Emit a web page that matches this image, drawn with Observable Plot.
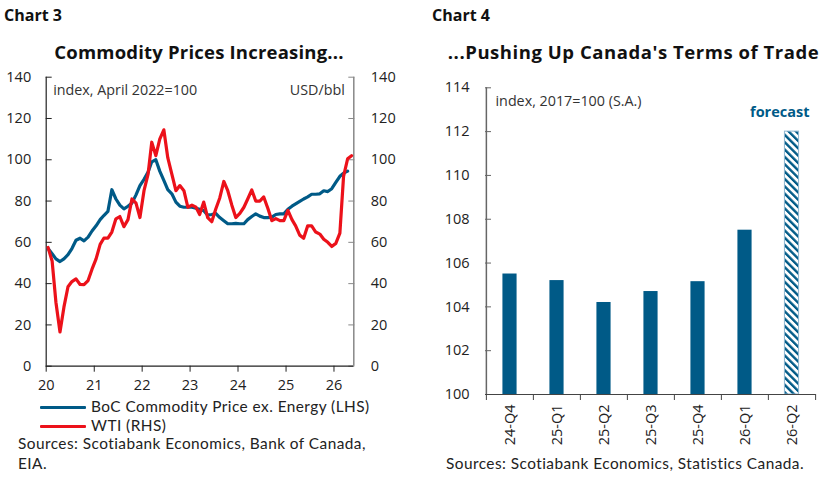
<!DOCTYPE html>
<html><head><meta charset="utf-8">
<script src="https://cdn.jsdelivr.net/npm/d3@7"></script>
<script src="https://cdn.jsdelivr.net/npm/@observablehq/plot@0.6"></script>
<style>
body{margin:0;background:#fff;font-family:"Open Sans",sans-serif;color:#222;}
#page{position:relative;width:828px;height:483px;overflow:hidden;background:#fff;}
.t{position:absolute;white-space:nowrap;line-height:1;}
.chartno{font-weight:700;font-size:16px;color:#111;}
.title{font-weight:700;font-size:18.5px;color:#111;text-align:center;width:420px;}
.body{font-family:Lato,"Open Sans",sans-serif;font-size:15.4px;letter-spacing:0.45px;color:#222;}
.sw{position:absolute;height:3px;border-radius:1px;}
.plot{position:absolute;}
</style></head><body>
<div id="page">
  <div class="t chartno" style="left:4px;top:6.8px;">Chart 3</div>
  <div class="t title" style="left:-11px;top:42.9px;letter-spacing:0.2px;">Commodity Prices Increasing...</div>
  <div class="t chartno" style="left:432px;top:6.8px;">Chart 4</div>
  <div class="t title" style="left:423.5px;top:42.9px;letter-spacing:0.55px;">...Pushing Up Canada's Terms of Trade</div>
  <div id="left" class="plot" style="left:0;top:64px;"></div>
  <div id="right" class="plot" style="left:414px;top:60px;"></div>
  <div class="sw" style="left:40px;top:406px;width:46px;background:#005a87;"></div>
  <div class="t body" style="left:91px;top:399.2px;">BoC Commodity Price ex. Energy (LHS)</div>
  <div class="sw" style="left:40px;top:424.5px;width:46px;background:#ec111a;"></div>
  <div class="t body" style="left:91px;top:417.7px;">WTI (RHS)</div>
  <div class="t body" style="left:18px;top:435.6px;">Sources: Scotiabank Economics, Bank of Canada,</div>
  <div class="t body" style="left:18px;top:455.6px;">EIA.</div>
  <div class="t body" style="left:446px;top:455.6px;">Sources: Scotiabank Economics, Statistics Canada.</div>
</div>
<script>
// ---- Chart 3 data (monthly, Jan 2020 onward) ----
const bocStart = "2020-01";
const bocExEnergy = [57,54.5,52,50.7,52,54,57,61,62,60.7,62.5,65.5,
  68,71,73,75,85.5,81,78,76.2,77.5,79,83,87.5,
  90.5,94,99,100,94.5,90,85.5,83.5,79.5,77.5,77,77,
  77,76.5,76,75.3,73.2,73.5,74,72,70.5,69,69,69.2,
  69,69,71,72.5,73.8,72.7,72,72,72.2,73.5,73.8,73.8,
  76,77.5,78.6,79.8,81,82,83.3,83.3,83.5,85,84.6,86,
  89,92,93.5,94.5];
const wti = [57.5,51,31,16.6,28.6,38.5,41,42.3,39.6,39.5,41.5,47,
  52,59,62,62,65,71.4,72.5,67.6,71,81,79,72,
  85,93,108.5,102,110,114.5,101,93,85,87.5,85,77,
  78,77,73.5,79.5,72,70,76,81.5,89.5,85,78,72,
  74,77,81,85.4,80,80,82,76.5,70.5,71.5,70.5,70.5,
  75.5,71,68,63.5,62,68,68,65,64,61.5,60,58,
  59.5,64.5,92,100.5,102];
const yearTicks = [2020,2021,2022,2023,2024,2025,2026];
const leftTicks = [0,20,40,60,80,100,120,140];
const xStartStr = "2020-01-01", xEndStr = "2026-06-01";

// ---- Chart 4 data ----
const quarters = ["24-Q4","25-Q1","25-Q2","25-Q3","25-Q4","26-Q1","26-Q2"];
const termsOfTrade = [105.5,105.2,104.2,104.7,105.15,107.5,112.0];
const isForecast = [false,false,false,false,false,false,true];
const rightTicks = [100,102,104,106,108,110,112,114];

const BLUE = "#005a87", RED = "#ec111a";

function monthDate(start, i){
  const [y,m] = start.split("-").map(Number);
  return new Date(Date.UTC(y, m-1+i, 15));
}
const bocData = bocExEnergy.map((v,i)=>({date:monthDate(bocStart,i), v}));
const wtiData = wti.map((v,i)=>({date:monthDate(bocStart,i), v}));
const xStart = new Date(xStartStr), xEnd = new Date(xEndStr);
const yearDates = yearTicks.map(y=>new Date(Date.UTC(y,0,1)));

const font = {fontFamily:"'Open Sans', sans-serif", fontSize:"14.5px", color:"#222", background:"transparent", overflow:"visible"};

const left = Plot.plot({
  width:414, height:336,
  marginLeft:45.7, marginRight:60.7, marginTop:12.7, marginBottom:34.3,
  x:{type:"utc", domain:[xStart,xEnd]},
  y:{domain:[0,140]},
  style:font,
  marks:[
    Plot.axisY({anchor:"left", ticks:leftTicks, tickSize:0, tickPadding:15, label:null}),
    Plot.axisY({anchor:"left", ticks:leftTicks, tickSize:6, dx:6, fill:"none", stroke:"#222", label:null}),
    Plot.axisY({anchor:"right", ticks:leftTicks, tickSize:0, tickPadding:17, label:null}),
    Plot.axisY({anchor:"right", ticks:leftTicks, tickSize:6, dx:-6, fill:"none", stroke:"#888", label:null}),
    Plot.axisX({ticks:yearDates, tickFormat:d3.utcFormat("%y"), tickSize:6, tickPadding:8, label:null, stroke:"#222"}),
    Plot.ruleX([xStart], {stroke:"#222", strokeWidth:1.2}),
    Plot.ruleX([xEnd], {stroke:"#888", strokeWidth:1.5}),
    Plot.ruleY([0], {stroke:"#222", strokeWidth:1.2}),
    Plot.lineY(bocData, {x:"date", y:"v", stroke:BLUE, strokeWidth:3.2, strokeLinejoin:"round"}),
    Plot.lineY(wtiData, {x:"date", y:"v", stroke:RED, strokeWidth:3.2, strokeLinejoin:"round"}),
    Plot.text(["index, April 2022=100"], {frameAnchor:"top-left", textAnchor:"start", lineAnchor:"middle", dx:7, dy:13.5, fontSize:14.3, fill:"#333"}),
    Plot.text(["USD/bbl"], {frameAnchor:"top-right", textAnchor:"end", lineAnchor:"middle", dx:-9, dy:13.5, fontSize:14.3, fill:"#333"})
  ]
});
document.getElementById("left").appendChild(left);

const RW=414, RML=71, RMR=12.3;
const step = (RW-RML-RMR)/quarters.length;
const barInset = (step-14.4)/2;
const totData = quarters.map((q,i)=>({q, v:termsOfTrade[i], f:isForecast[i]}));
const yBase = rightTicks[0];

const right = Plot.plot({
  width:RW, height:392,
  marginLeft:RML, marginRight:RMR, marginTop:27.3, marginBottom:58,
  x:{type:"band", domain:quarters, padding:0},
  y:{domain:[rightTicks[0], rightTicks[rightTicks.length-1]]},
  style:font,
  marks:[
    Plot.barY(totData.filter(d=>!d.f), {x:"q", y1:()=>yBase, y2:"v", fill:BLUE, insetLeft:barInset, insetRight:barInset}),
    Plot.barY(totData.filter(d=>d.f), {x:"q", y1:()=>yBase, y2:"v", fill:"url(#hatch)", stroke:"#8db6d0", strokeWidth:1, insetLeft:barInset, insetRight:barInset}),
    Plot.axisY({anchor:"left", ticks:rightTicks, tickSize:0, tickPadding:16, label:null}),
    Plot.axisY({anchor:"left", ticks:rightTicks, tickSize:6, dx:6, fill:"none", stroke:"#666", label:null}),
    Plot.axisX({tickSize:0, tickRotate:-90, tickPadding:10, label:null}),
    Plot.axisX({tickSize:6, dx:-step/2, fill:"none", stroke:"#444", label:null}),
    Plot.axisX({ticks:[quarters[quarters.length-1]], tickSize:6, dx:step/2, fill:"none", stroke:"#444", label:null}),
    Plot.ruleX([quarters[0]], {dx:-step/2, stroke:"#666", strokeWidth:1.5}),
    Plot.ruleY([yBase], {stroke:"#444", strokeWidth:1.2}),
    Plot.text(["index, 2017=100 (S.A.)"], {frameAnchor:"top-left", textAnchor:"start", lineAnchor:"middle", dx:10, dy:13.4, fontSize:14.3, fill:"#333"}),
    Plot.text(["forecast"], {frameAnchor:"top-right", textAnchor:"end", lineAnchor:"middle", dx:-6.7, dy:24.4, fontSize:14.5, fontWeight:"bold", fill:BLUE})
  ]
});
const ns = "http://www.w3.org/2000/svg";
const defs = document.createElementNS(ns, "defs");
defs.innerHTML = `<pattern id="hatch" patternUnits="userSpaceOnUse" width="5.2" height="5.2" patternTransform="rotate(-45)"><rect width="5.2" height="5.2" fill="#fff"/><rect width="2.4" height="5.2" fill="${BLUE}"/></pattern>`;
right.prepend(defs);
document.getElementById("right").appendChild(right);
</script>
</body></html>
